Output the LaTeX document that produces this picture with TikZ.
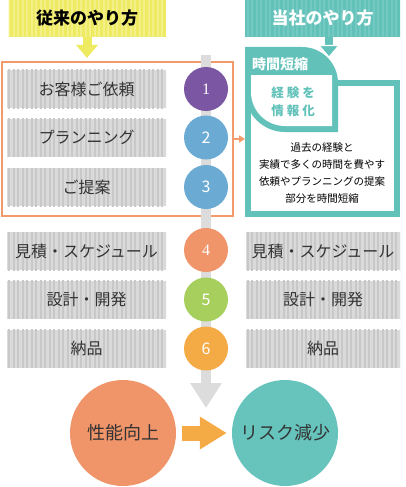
\documentclass[tikz,border=0pt]{standalone}
\usepackage{fontspec}
\setmainfont{Noto Sans CJK JP}
\newfontfamily\numserif{Liberation Serif}
\usetikzlibrary{arrows.meta,patterns.meta}

\definecolor{tealc}{HTML}{62C2BA}
\definecolor{tealstripe}{HTML}{74CAC3}
\definecolor{hdryellow}{HTML}{EEEA62}
\definecolor{yellowstripe}{HTML}{F3F08A}
\definecolor{oldline}{HTML}{F29A6B}
\definecolor{stripebg}{HTML}{DADADA}
\definecolor{stripefg}{HTML}{C8C8C8}
\definecolor{textgray}{HTML}{333333}
\definecolor{barg}{HTML}{DCDCDC}
\definecolor{stepone}{HTML}{7B56A2}
\definecolor{steptwo}{HTML}{6BAAD3}
\definecolor{stepfour}{HTML}{F0946A}
\definecolor{stepfive}{HTML}{A7CF5D}
\definecolor{stepsix}{HTML}{F5AB45}
\definecolor{riskc}{HTML}{66C4BD}

\tikzset{
  rowbox/.style={minimum height=38pt, inner sep=0pt, fill=stripebg,
    postaction={pattern={Lines[angle=90,distance=4.5pt,line width=2pt]}, pattern color=stripefg},
    text=textgray, font=\fontsize{16}{16}\selectfont},
  leftrow/.style={rowbox, minimum width=159pt},
  rightrow/.style={rowbox, minimum width=154pt},
  hdrbox/.style={minimum height=37pt, minimum width=157pt, inner sep=0pt,
    font=\bfseries\fontsize{17}{17}\selectfont},
  stepcircle/.style={circle, minimum size=44pt, inner sep=0pt, text=white,
    font=\fontsize{16}{16}\selectfont},
  bigcircle/.style={circle, minimum size=106pt, inner sep=0pt, text=textgray,
    font=\fontsize{18}{18}\selectfont},
}

\begin{document}
\begin{tikzpicture}[x=1pt, y=-1pt]
  \useasboundingbox (0,0) rectangle (406,487);

  % headers
  \node[hdrbox, fill=hdryellow, postaction={pattern={Lines[angle=90,distance=4.5pt,line width=2pt]}, pattern color=yellowstripe}] (oldhead) at (87,18.5) {従来のやり方};
  \node[hdrbox, fill=tealc, text=white, minimum width=155pt, postaction={pattern={Lines[angle=90,distance=4.5pt,line width=2pt]}, pattern color=tealstripe}] (newhead) at (322.5,18.5) {当社のやり方};
  \coordinate (oldtip) at (87,58);
  \coordinate (newtip) at (329,58);
  \draw[hdryellow, line width=9pt, -{Triangle[width=21pt,length=13pt]}] (oldhead.south -| oldtip) -- (oldtip);

  % old way
  \node[draw=oldline, line width=1.5pt, minimum width=231pt, minimum height=154pt, inner sep=0pt] (oldbox) at (117.5,139) {};
  \coordinate (bartop) at (206,55);
  \coordinate (bartip) at (206,408);
  \draw[barg, line width=10pt, -{Triangle[width=30pt,length=25pt]}] (bartop) -- (bartip);

  \node[leftrow] (req) at (86.5,89) {お客様ご依頼};
  \node[leftrow] (plan) at (86.5,137.5) {プランニング};
  \node[leftrow] (prop) at (86.5,187) {ご提案};
  \node[leftrow] (est) at (86.5,251) {見積・スケジュール};
  \node[leftrow] (dev) at (86.5,299.5) {設計・開発};
  \node[leftrow] (dlv) at (86.5,348.5) {納品};

  \node[stepcircle, fill=stepone] (s1) at (206,89) {\numserif 1};
  \node[stepcircle, fill=steptwo] (s2) at (206,137.5) {2};
  \node[stepcircle, fill=steptwo] (s3) at (206,187) {3};
  \node[stepcircle, fill=stepfour] (s4) at (206,250) {\numserif 4};
  \node[stepcircle, fill=stepfive] (s5) at (206,299.5) {5};
  \node[stepcircle, fill=stepsix] (s6) at (206,348.5) {6};

  % new way
  \node[draw=tealc, line width=6pt, minimum width=149pt, minimum height=131pt, inner sep=0pt] (newbox) at (322.5,148.5) {};
  \fill[tealc] (245,47) -- (302,47) arc[start angle=-90,end angle=0,radius=36] -- (338,132) -- (285,132) arc[start angle=90,end angle=180,radius=40] -- cycle;
  \fill[white] (251,75) -- (332,75) -- (332,126) -- (285,126) arc[start angle=90,end angle=180,radius=34] -- cycle;
  \draw[tealc, line width=8pt, -{Triangle[width=22pt,length=13pt,fill=tealc,color=white,line width=1.2pt]}] (newhead.south -| newtip) -- (newtip);
  \node[text=white, font=\bfseries\fontsize{14}{14}\selectfont] (tabtitle) at (280,64) {時間短縮};
  \node[text=tealc, font=\bfseries\fontsize{12.5}{18}\selectfont, align=center] (leaftext) at (293,102) {経\hspace{3pt}験\hspace{3pt}を\\情\hspace{3pt}報\hspace{3pt}化};
  \node[text=black, font=\fontsize{10.5}{17}\selectfont, align=center] (newtext) at (322,173) {過去の経験と\\実績で多くの時間を費やす\\依頼やプランニングの提案\\部分を時間短縮};
  \draw[oldline, line width=1.5pt, -{Triangle[width=7pt,length=6pt]}] (oldbox.east) -- (oldbox.east -| newbox.west);

  \node[rightrow] (est2) at (323,251) {見積・スケジュール};
  \node[rightrow] (dev2) at (323,299.5) {設計・開発};
  \node[rightrow] (dlv2) at (323,348.5) {納品};

  % result
  \node[bigcircle, fill=stepfour] (perf) at (123,433) {性能向上};
  \node[bigcircle, fill=riskc] (risk) at (285,433) {リスク減少};
  \draw[stepsix, line width=15pt, shorten <=6pt, shorten >=5pt, -{Triangle[width=31pt,length=27pt]}] (perf) -- (risk);
\end{tikzpicture}
\end{document}
